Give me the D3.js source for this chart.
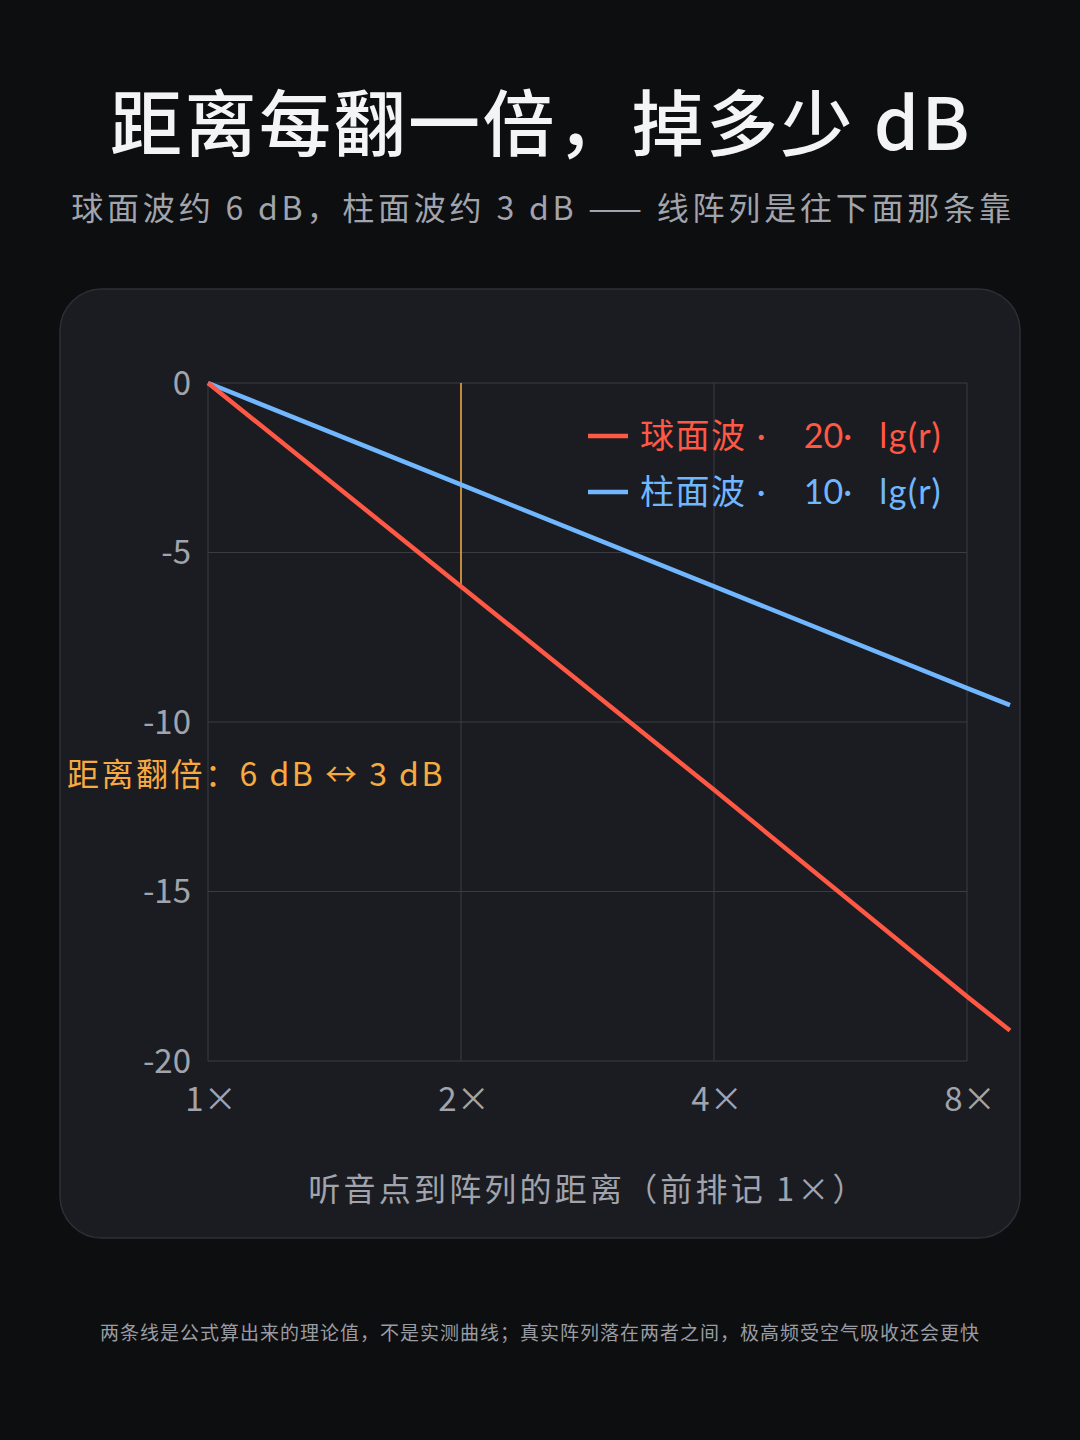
<!DOCTYPE html>
<html>
<head>
<meta charset="utf-8">
<script src="https://cdn.jsdelivr.net/npm/d3@7"></script>
<style>
  html, body { margin: 0; padding: 0; background: #0d0e10; }
  svg { display: block; }
  text { font-family: "Noto Sans CJK SC", "Noto Sans", sans-serif; }
  text.latin { font-family: "Lato", "Noto Sans CJK SC", sans-serif; }
</style>
</head>
<body>
<div id="chart"></div>
<script>
// distance in multiples of the front-row distance
const distances = [1, 2, 4, 8, 9];
// level drop, dB
const sphericalDb = [0, -6.0, -12.0, -18.1, -19.1];
const cylindricalDb = [0, -3.0, -6.0, -9.0, -9.5];

const xTicks = [1, 2, 4, 8];
const xTickLabels = ["1×", "2×", "4×", "8×"];
const yTicks = [0, -5, -10, -15, -20];
const yTickLabels = ["0", "-5", "-10", "-15", "-20"];

const seriesNames = ["球面波", "柱面波"];
const seriesFormulas = ["20·", "10·"];

const width = 1080, height = 1440;
const red = "#ff5845", blue = "#70b7ff", orange = "#f7aa40";
const muted = "#a1a4ac";

let svg = d3.select("#chart").append("svg")
    .attr("width", width)
    .attr("height", height);

svg.append("rect").attr("width", width).attr("height", height).attr("fill", "#0d0e10");

// title + subtitle
svg.append("text")
    .attr("x", 541).attr("y", 150)
    .attr("text-anchor", "middle")
    .attr("fill", "#f4f4f6")
    .attr("font-size", 72)
    .attr("font-weight", 500)
    .attr("letter-spacing", 2.5)
    .text("距离每翻一倍，掉多少 dB");

svg.append("text")
    .attr("x", 543).attr("y", 220)
    .attr("text-anchor", "middle")
    .attr("fill", muted)
    .attr("font-size", 32)
    .attr("letter-spacing", 3.8)
    .text("球面波约 6 dB，柱面波约 3 dB —— 线阵列是往下面那条靠");

// card
svg.append("rect")
    .attr("x", 60).attr("y", 289)
    .attr("width", 960).attr("height", 949)
    .attr("rx", 42)
    .attr("fill", "#1b1c21")
    .attr("stroke", "#2d2f35")
    .attr("stroke-width", 1.5);

let x = d3.scaleLog().base(2).domain([1, 8]).range([208, 967]);
let y = d3.scaleLinear().domain([0, -20]).range([383, 1061]);

let g = svg.append("g");

// grid
g.selectAll(".vgrid")
    .data(xTicks)
    .enter().append("line")
    .attr("x1", d => x(d)).attr("x2", d => x(d))
    .attr("y1", y(0)).attr("y2", y(-20))
    .attr("stroke", "#3a3c43").attr("stroke-width", 1);

g.selectAll(".hgrid")
    .data(yTicks)
    .enter().append("line")
    .attr("x1", x(1)).attr("x2", x(8))
    .attr("y1", d => y(d)).attr("y2", d => y(d))
    .attr("stroke", "#3a3c43").attr("stroke-width", 1);

// tick labels
g.selectAll(".ylab")
    .data(yTicks)
    .enter().append("text")
    .attr("x", 191)
    .attr("y", d => y(d))
    .attr("dy", "0.35em")
    .attr("text-anchor", "end")
    .attr("fill", muted)
    .attr("font-size", 33)
    .text((d, i) => yTickLabels[i]);

g.selectAll(".xlab")
    .data(xTicks)
    .enter().append("text")
    .attr("x", d => x(d) + 3)
    .attr("y", 1099)
    .attr("dy", "0.35em")
    .attr("text-anchor", "middle")
    .attr("fill", muted)
    .attr("font-size", 33)
    .text((d, i) => xTickLabels[i]);

svg.append("text")
    .attr("x", 588).attr("y", 1190)
    .attr("dy", "0.35em")
    .attr("text-anchor", "middle")
    .attr("fill", muted)
    .attr("font-size", 32)
    .attr("letter-spacing", 3.2)
    .text("听音点到阵列的距离（前排记 1×）");

// doubling marker
g.append("line")
    .attr("x1", x(2)).attr("x2", x(2))
    .attr("y1", y(0)).attr("y2", y(sphericalDb[1]))
    .attr("stroke", orange).attr("stroke-width", 1.5);

svg.append("text")
    .attr("x", 67).attr("y", 775)
    .attr("dy", "0.35em")
    .attr("fill", orange)
    .attr("font-size", 32)
    .attr("letter-spacing", 2.5)
    .text("距离翻倍：6 dB ↔ 3 dB");

// lines
let line = d3.line()
    .x(d => x(d[0]))
    .y(d => y(d[1]));

let series = [
    { values: distances.map((r, i) => [r, cylindricalDb[i]]), color: blue },
    { values: distances.map((r, i) => [r, sphericalDb[i]]), color: red }
];

g.selectAll(".series")
    .data(series)
    .enter().append("path")
    .attr("d", d => line(d.values))
    .attr("fill", "none")
    .attr("stroke", d => d.color)
    .attr("stroke-width", 4.5)
    .attr("stroke-linecap", "butt");

// legend
let legendColors = [red, blue];
let legend = svg.selectAll(".legend")
    .data(seriesNames)
    .enter().append("g")
    .attr("transform", (d, i) => "translate(0," + (436 + i * 56) + ")");

legend.append("line")
    .attr("x1", 588).attr("x2", 628)
    .attr("stroke", (d, i) => legendColors[i])
    .attr("stroke-width", 4.5);

legend.append("text")
    .attr("class", "latin")
    .attr("x", 640)
    .attr("dy", "0.35em")
    .attr("fill", (d, i) => legendColors[i])
    .attr("font-size", 34)
    .attr("letter-spacing", 1.5)
    .text(d => d + " ·");

legend.append("text")
    .attr("class", "latin")
    .attr("x", 852)
    .attr("dy", "0.35em")
    .attr("text-anchor", "end")
    .attr("fill", (d, i) => legendColors[i])
    .attr("font-size", 34)
    .text((d, i) => seriesFormulas[i]);

legend.append("text")
    .attr("class", "latin")
    .attr("x", 942)
    .attr("dy", "0.35em")
    .attr("text-anchor", "end")
    .attr("fill", (d, i) => legendColors[i])
    .attr("font-size", 34)
    .attr("letter-spacing", 1.5)
    .text("lg(r)");

// footnote
svg.append("text")
    .attr("x", 540).attr("y", 1333)
    .attr("dy", "0.35em")
    .attr("text-anchor", "middle")
    .attr("fill", "#9a9ca3")
    .attr("font-size", 19)
    .attr("letter-spacing", 1)
    .text("两条线是公式算出来的理论值，不是实测曲线；真实阵列落在两者之间，极高频受空气吸收还会更快");
</script>
</body>
</html>
